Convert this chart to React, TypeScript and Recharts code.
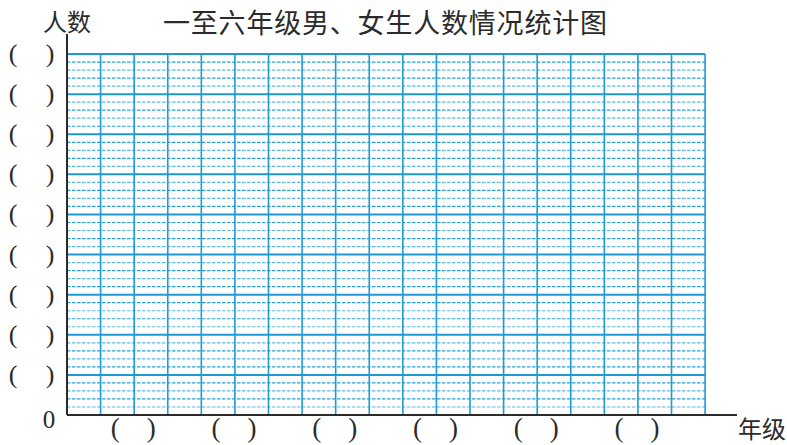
import { ComposedChart, Line, ReferenceLine, XAxis, YAxis } from 'recharts'

// blank worksheet chart: six grades, boy/girl bars to be filled in by hand
const grades = ['一年级', '二年级', '三年级', '四年级', '五年级', '六年级']
const gradeSlots = [2, 5, 8, 11, 14, 17]
const boys: (number | null)[] = [null, null, null, null, null, null]
const girls: (number | null)[] = [null, null, null, null, null, null]

const yMajor = [0, 5, 10, 15, 20, 25, 30, 35, 40, 45]
const yMinor = Array.from({ length: 45 }, (_, i) => i).filter(v => v % 5 !== 0)
const xColumns = Array.from({ length: 19 }, (_, i) => i + 1)

const data = grades.map((g, i) => ({ grade: g, slot: gradeSlots[i], boys: boys[i], girls: girls[i] }))

const BLUE = '#1d9ad6'
const INK = '#2b2b2b'
const SERIF = '"Liberation Serif", "DejaVu Serif", serif'
const CJK = '"Noto Sans CJK SC", "Noto Sans", sans-serif'

const XTick = (props: any) => {
  const { x, y } = props
  return (
    <g fill={INK} fontFamily={SERIF} fontSize={27}>
      <text x={x - 19} y={y + 22} textAnchor="middle">(</text>
      <text x={x + 17} y={y + 22} textAnchor="middle">)</text>
    </g>
  )
}

const YTick = (props: any) => {
  const { x, y, payload } = props
  if (payload.value === 0) {
    return (
      <text x={x - 18} y={y + 13} textAnchor="middle" fill={INK} fontFamily={SERIF} fontSize={25}>
        0
      </text>
    )
  }
  return (
    <g fill={INK} fontFamily={SERIF} fontSize={26}>
      <text x={x - 54} y={y + 8} textAnchor="middle">(</text>
      <text x={x - 17} y={y + 8} textAnchor="middle">)</text>
    </g>
  )
}

export default function App() {
  return (
    <div style={{ position: 'absolute', left: 0, top: 0, width: 787, height: 445, background: '#fff' }}>
      <div style={{ position: 'absolute', left: 43, top: 9, fontFamily: CJK, fontSize: 24, lineHeight: 1, color: INK }}>
        人数
      </div>
      <div
        style={{
          position: 'absolute',
          left: 163,
          top: 8,
          fontFamily: CJK,
          fontSize: 27,
          letterSpacing: 0.8,
          lineHeight: 1,
          color: INK,
          whiteSpace: 'nowrap',
        }}
      >
        一至六年级男、女生人数情况统计图
      </div>
      <div style={{ position: 'absolute', left: 738, top: 416, fontFamily: CJK, fontSize: 24, lineHeight: 1, color: INK }}>
        年级
      </div>
      <ComposedChart width={787} height={445} data={data} margin={{ top: 34, right: 50, left: 0, bottom: 0 }}>
        <XAxis
          type="number"
          dataKey="slot"
          domain={[0, 19.95]}
          ticks={gradeSlots}
          height={30}
          tickLine={false}
          tickSize={0}
          tickMargin={0}
          axisLine={{ stroke: INK, strokeWidth: 2 }}
          tick={<XTick />}
          allowDataOverflow
        />
        <YAxis
          type="number"
          domain={[0, 47.5]}
          ticks={yMajor}
          width={67}
          tickLine={false}
          tickSize={0}
          tickMargin={0}
          axisLine={{ stroke: INK, strokeWidth: 2 }}
          tick={<YTick />}
          allowDataOverflow
        />
        {yMinor.map(v => (
          <ReferenceLine
            key={'m' + v}
            segment={[{ x: 0, y: v }, { x: 19, y: v }]}
            stroke={BLUE}
            strokeWidth={1.2}
            strokeOpacity={v % 2 === 0 ? 0.95 : 0.7}
            strokeDasharray="3.5 1.5"
          />
        ))}
        {xColumns.map(c => (
          <ReferenceLine
            key={'c' + c}
            segment={[{ x: c, y: 0 }, { x: c, y: 45 }]}
            stroke={BLUE}
            strokeWidth={1.6}
          />
        ))}
        {yMajor.filter(v => v > 0).map(v => (
          <ReferenceLine
            key={'M' + v}
            segment={[{ x: 0, y: v }, { x: 19, y: v }]}
            stroke={BLUE}
            strokeWidth={2}
          />
        ))}
        <Line dataKey="boys" stroke="none" dot={false} isAnimationActive={false} />
        <Line dataKey="girls" stroke="none" dot={false} isAnimationActive={false} />
      </ComposedChart>
    </div>
  )
}
